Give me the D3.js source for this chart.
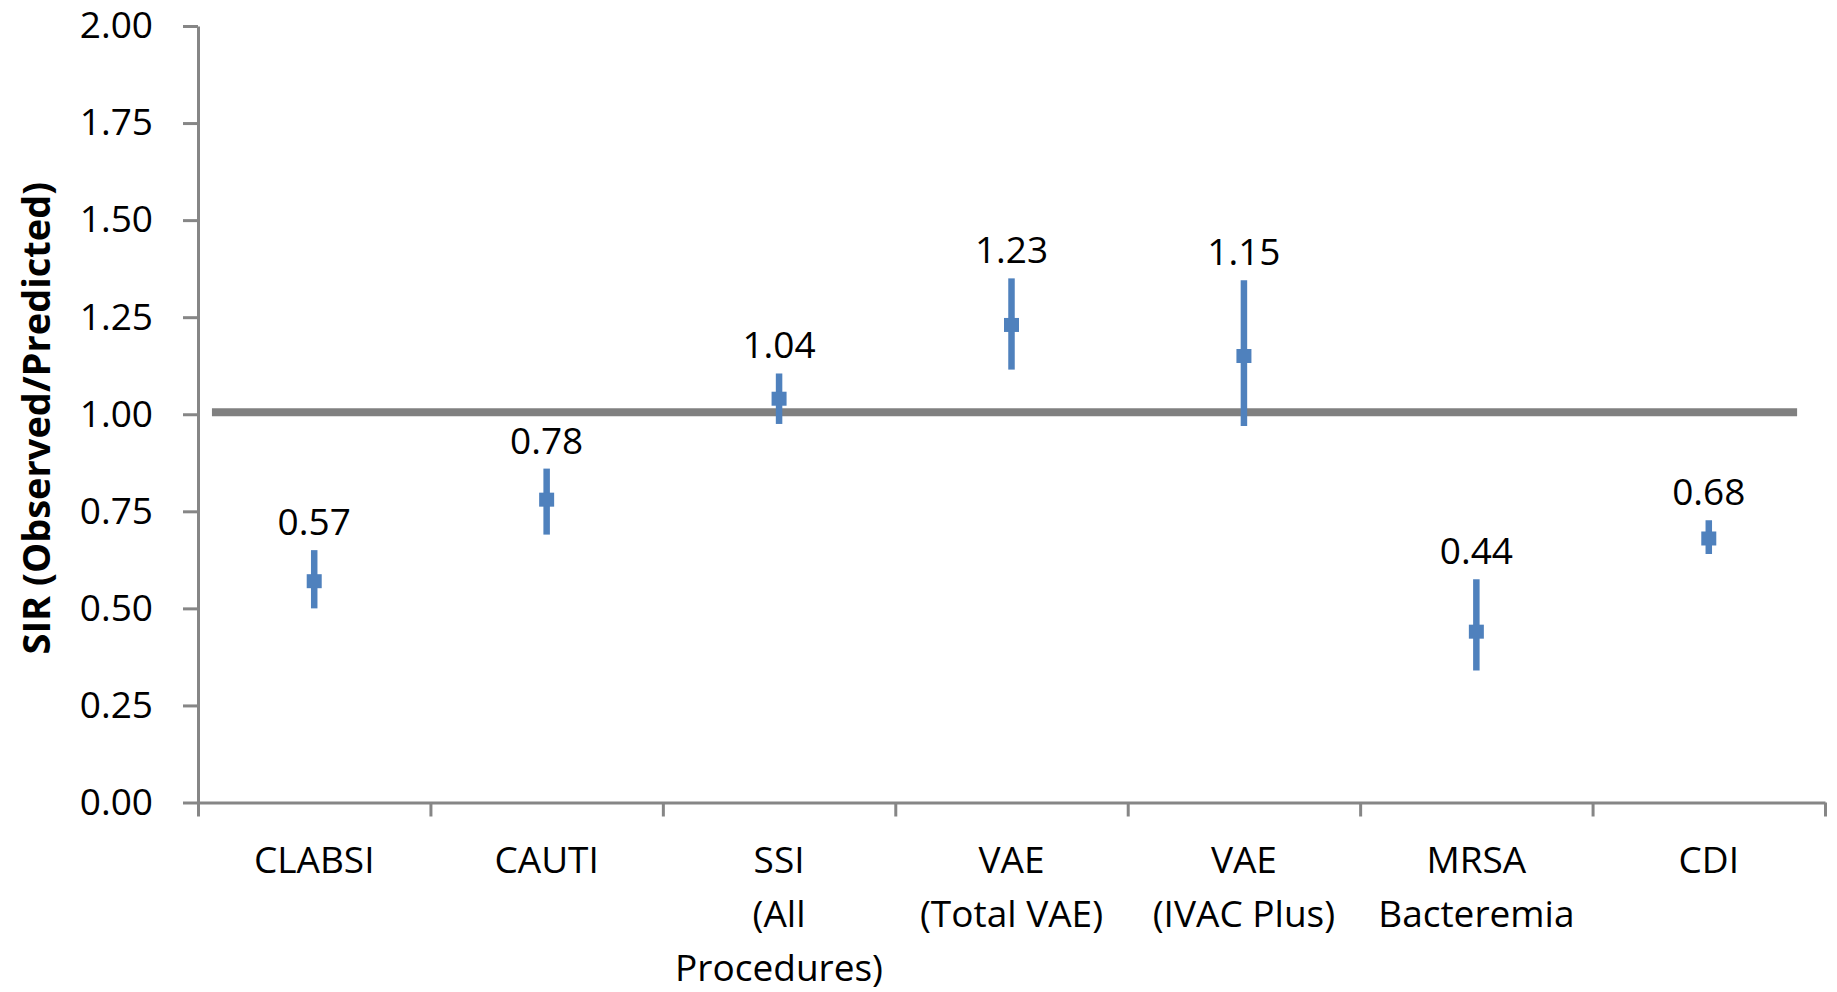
<!DOCTYPE html>
<html>
<head>
<meta charset="utf-8">
<script src="https://cdn.jsdelivr.net/npm/d3@7"></script>
<style>
  html, body { margin: 0; padding: 0; background: #fff; }
  svg { display: block; }
</style>
</head>
<body>
<div id="chart"></div>
<script>
// categories (each entry is the lines of the axis label)
const categories = ['CLABSI', 'CAUTI', 'SSI', 'VAE Total', 'VAE IVAC', 'MRSA', 'CDI'];
const categoryLines = [
  ['CLABSI'],
  ['CAUTI'],
  ['SSI', '(All', 'Procedures)'],
  ['VAE', '(Total VAE)'],
  ['VAE', '(IVAC Plus)'],
  ['MRSA', 'Bacteremia'],
  ['CDI'],
];
// SIR point estimates and 95% CI bounds
const sirValues = [0.57, 0.78, 1.04, 1.23, 1.15, 0.44, 0.68];
const ciLower = [0.50, 0.69, 0.975, 1.115, 0.97, 0.34, 0.64];
const ciUpper = [0.65, 0.86, 1.105, 1.35, 1.345, 0.575, 0.727];
const yTicks = [0, 0.25, 0.5, 0.75, 1, 1.25, 1.5, 1.75, 2];
// reference line at SIR = 1 (x in category units)
const refLine = [{ x: 0.06, y: 1.005 }, { x: 6.88, y: 1.005 }];

const width = 1837, height = 992;
const font = '"Open Sans", "Liberation Sans", sans-serif';
const blue = '#4f81bd';
const axisGray = '#868686';

const svg = d3.select('#chart').append('svg')
  .attr('width', width)
  .attr('height', height)
  .attr('font-family', font);

svg.append('rect').attr('width', width).attr('height', height).attr('fill', '#fff');

const x = d3.scaleBand().domain(categories).range([198, 1825]).padding(0);
const xLin = d3.scaleLinear().domain([0, categories.length]).range([198, 1825]);
const y = d3.scaleLinear().domain([0, 2]).range([802.5, 26]);

const data = categories.map((c, i) => ({
  cat: c,
  lines: categoryLines[i],
  value: sirValues[i],
  lo: ciLower[i],
  hi: ciUpper[i],
}));

// y axis
const yAxis = svg.append('g')
  .attr('class', 'y-axis')
  .attr('transform', `translate(${xLin(0)},0)`)
  .call(d3.axisLeft(y).tickValues(yTicks).tickFormat(d3.format('.2f'))
    .tickSize(15).tickSizeOuter(0).tickPadding(30));
yAxis.select('.domain').attr('stroke', axisGray).attr('stroke-width', 3);
yAxis.selectAll('.tick line').attr('stroke', axisGray).attr('stroke-width', 3);
yAxis.selectAll('.tick text')
  .attr('font-size', 37)
  .attr('font-family', font)
  .attr('fill', '#000');

// x axis (ticks between categories)
const xAxis = svg.append('g')
  .attr('class', 'x-axis')
  .attr('transform', `translate(0,${y(0)})`)
  .call(d3.axisBottom(xLin).tickValues(d3.range(0, categories.length + 1))
    .tickSize(14).tickSizeOuter(0).tickFormat(''));
xAxis.select('.domain').attr('stroke', axisGray).attr('stroke-width', 3);
xAxis.selectAll('.tick line').attr('stroke', axisGray).attr('stroke-width', 3);

// category labels
svg.append('g')
  .selectAll('text')
  .data(data)
  .join('text')
  .attr('text-anchor', 'middle')
  .attr('font-size', 37)
  .attr('fill', '#000')
  .selectAll('tspan')
  .data((d) => d.lines.map((l) => ({ l, cx: x(d.cat) + x.bandwidth() / 2 })))
  .join('tspan')
  .attr('x', (d) => d.cx)
  .attr('y', (d, i) => 873 + i * 54)
  .text((d) => d.l);

// reference line at 1.00
svg.append('path')
  .datum(refLine)
  .attr('fill', 'none')
  .attr('stroke', '#808080')
  .attr('stroke-width', 8)
  .attr('d', d3.line().x((d) => xLin(d.x)).y((d) => y(d.y)));

// error bars
const points = svg.append('g').attr('class', 'points');
points.selectAll('line.err')
  .data(data)
  .join('line')
  .attr('class', 'err')
  .attr('x1', (d) => x(d.cat) + x.bandwidth() / 2)
  .attr('x2', (d) => x(d.cat) + x.bandwidth() / 2)
  .attr('y1', (d) => y(d.lo))
  .attr('y2', (d) => y(d.hi))
  .attr('stroke', blue)
  .attr('stroke-width', 6.5);

// markers
const m = 15;
points.selectAll('rect.marker')
  .data(data)
  .join('rect')
  .attr('class', 'marker')
  .attr('x', (d) => x(d.cat) + x.bandwidth() / 2 - m / 2)
  .attr('y', (d) => y(d.value) - m / 2 + 0.5)
  .attr('width', m)
  .attr('height', m - 1)
  .attr('fill', blue);

// value labels
points.selectAll('text.val')
  .data(data)
  .join('text')
  .attr('class', 'val')
  .attr('x', (d) => x(d.cat) + x.bandwidth() / 2)
  .attr('y', (d) => y(d.hi) - 15)
  .attr('text-anchor', 'middle')
  .attr('font-size', 37)
  .attr('fill', '#000')
  .text((d) => d3.format('.2f')(d.value));

// y axis title
svg.append('text')
  .attr('transform', `translate(35,${y(0.99)}) rotate(-90)`)
  .attr('text-anchor', 'middle')
  .attr('dominant-baseline', 'central')
  .attr('font-size', 38)
  .attr('font-weight', 'bold')
  .attr('fill', '#000')
  .text('SIR (Observed/Predicted)');
</script>
</body>
</html>
